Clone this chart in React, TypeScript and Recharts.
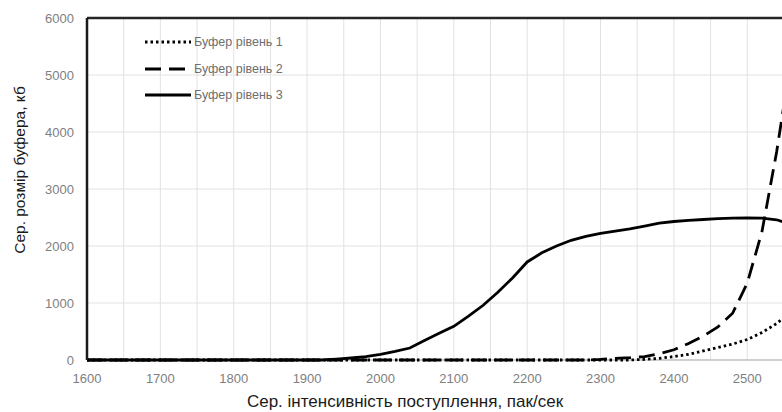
import React from 'react';
import { LineChart, Line, XAxis, YAxis, Legend, ReferenceLine } from 'recharts';

const xValues = [
  1600, 1620, 1640, 1660, 1680, 1700, 1720, 1740, 1760, 1780,
  1800, 1820, 1840, 1860, 1880, 1900, 1920, 1940, 1960, 1980,
  2000, 2020, 2040, 2060, 2080, 2100, 2120, 2140, 2160, 2180,
  2200, 2220, 2240, 2260, 2280, 2300, 2320, 2340, 2360, 2380,
  2400, 2420, 2440, 2460, 2480, 2500, 2520, 2540, 2560,
];
const level1 = [
  0, 0, 0, 0, 0, 0, 0, 0, 0, 0,
  0, 0, 0, 0, 0, 0, 0, 0, 0, 0,
  0, 0, 0, 0, 0, 0, 0, 0, 0, 0,
  0, 0, 0, 0, 0, 0, 0, 0, 10, 30,
  60, 100, 160, 220, 280, 360, 480, 640, 850,
];
const level2 = [
  0, 0, 0, 0, 0, 0, 0, 0, 0, 0,
  0, 0, 0, 0, 0, 0, 0, 0, 0, 0,
  0, 0, 0, 0, 0, 0, 0, 0, 0, 0,
  0, 0, 0, 0, 0, 10, 30, 40, 60, 110,
  180, 290, 420, 580, 820, 1350, 2250, 3650, 5300,
];
const level3 = [
  0, 0, 0, 0, 0, 0, 0, 0, 0, 0,
  0, 0, 0, 0, 0, 0, 0, 15, 35, 60,
  100, 150, 210, 340, 470, 590, 770, 960, 1190, 1440,
  1720, 1880, 2000, 2100, 2170, 2220, 2260, 2300, 2350, 2400,
  2430, 2450, 2465, 2480, 2490, 2495, 2490, 2460, 2380,
];
const seriesNames = ['Буфер рівень 1', 'Буфер рівень 2', 'Буфер рівень 3'];
const xTicks = [1600, 1700, 1800, 1900, 2000, 2100, 2200, 2300, 2400, 2500];
const xMinorTicks = [
  1650, 1700, 1750, 1800, 1850, 1900, 1950, 2000, 2050, 2100, 2150,
  2200, 2250, 2300, 2350, 2400, 2450, 2500, 2550, 2600, 2650,
];
const yTicks = [0, 1000, 2000, 3000, 4000, 5000, 6000];
const yGridTicks = [1000, 2000, 3000, 4000, 5000];
const xTitle = 'Сер. інтенсивність поступлення, пак/сек';
const yTitle = 'Сер. розмір буфера, кб';

const data = xValues.map((x, i) => ({ x, l1: level1[i], l2: level2[i], l3: level3[i] }));

const FONT = '"Liberation Sans", Arial, sans-serif';
const GRID = '#e2e2e2';
const dashes: Record<string, string | undefined> = {
  l1: '2.5 3',
  l2: '16 8',
  l3: undefined,
};

const LegendContent = (props: any) => {
  const payload = props.payload || [];
  return (
    <div style={{ fontFamily: FONT }}>
      {payload.map((p: any) => (
        <div key={p.dataKey} style={{ display: 'flex', alignItems: 'center', height: 26.5 }}>
          <svg width={46} height={10} style={{ display: 'block' }}>
            <line x1={0} y1={5} x2={46} y2={5} stroke="#000" strokeWidth={2.8} strokeDasharray={dashes[p.dataKey]} />
          </svg>
          <span style={{ marginLeft: 3, fontSize: 12.5, color: '#6e6e6e' }}>{p.value}</span>
        </div>
      ))}
    </div>
  );
};

export default function App() {
  return (
    <div style={{ position: 'absolute', left: 0, top: 0, width: 782, height: 412, overflow: 'hidden', background: '#fff' }}>
      <LineChart width={904} height={412} data={data} margin={{ top: 18, right: 10, bottom: 22, left: 27 }}>
        <XAxis
          dataKey="x"
          type="number"
          domain={[1600, 2700]}
          ticks={xTicks}
          interval={0}
          tickLine={false}
          tickSize={0}
          tickMargin={14}
          axisLine={false}
          tick={{ fill: '#808080', fontSize: 13, fontFamily: FONT }}
          height={30}
        />
        <YAxis
          type="number"
          domain={[0, 6000]}
          ticks={yTicks}
          interval={0}
          tickLine={false}
          tickSize={0}
          tickMargin={13}
          width={60}
          axisLine={{ stroke: '#1a1a1a', strokeWidth: 2.5 }}
          tick={{ fill: '#808080', fontSize: 13, fontFamily: FONT }}
        />
        {xMinorTicks.map((t) => (
          <ReferenceLine key={'vx' + t} x={t} stroke={GRID} strokeWidth={1} />
        ))}
        {yGridTicks.map((t) => (
          <ReferenceLine key={'hy' + t} y={t} stroke={GRID} strokeWidth={1} />
        ))}
        <ReferenceLine y={0} stroke="#bfbfbf" strokeWidth={1.5} />
        <ReferenceLine y={6000} stroke="#262626" strokeWidth={2.5} />
        <Legend
          layout="vertical"
          align="center"
          verticalAlign="middle"
          content={<LegendContent />}
          wrapperStyle={{ left: 145, top: 29, width: 220, height: 80 }}
        />
        <Line dataKey="l1" name={seriesNames[0]} type="linear" stroke="#000" strokeWidth={2.8} strokeDasharray={dashes.l1} dot={false} isAnimationActive={false} />
        <Line dataKey="l2" name={seriesNames[1]} type="linear" stroke="#000" strokeWidth={2.8} strokeDasharray={dashes.l2} dot={false} isAnimationActive={false} />
        <Line dataKey="l3" name={seriesNames[2]} type="linear" stroke="#000" strokeWidth={2.8} dot={false} isAnimationActive={false} />
      </LineChart>
      <div style={{ position: 'absolute', left: 0, width: 810, top: 393, lineHeight: '17px', textAlign: 'center', fontFamily: FONT, fontSize: 17, color: '#1a1a1a', whiteSpace: 'nowrap' }}>
        {xTitle}
      </div>
      <div style={{ position: 'absolute', left: 20, top: 170, width: 0, height: 0 }}>
        <div style={{ position: 'absolute', transform: 'translate(-50%, -50%) rotate(-90deg)', fontFamily: FONT, fontSize: 15.5, color: '#1a1a1a', whiteSpace: 'nowrap' }}>
          {yTitle}
        </div>
      </div>
    </div>
  );
}
